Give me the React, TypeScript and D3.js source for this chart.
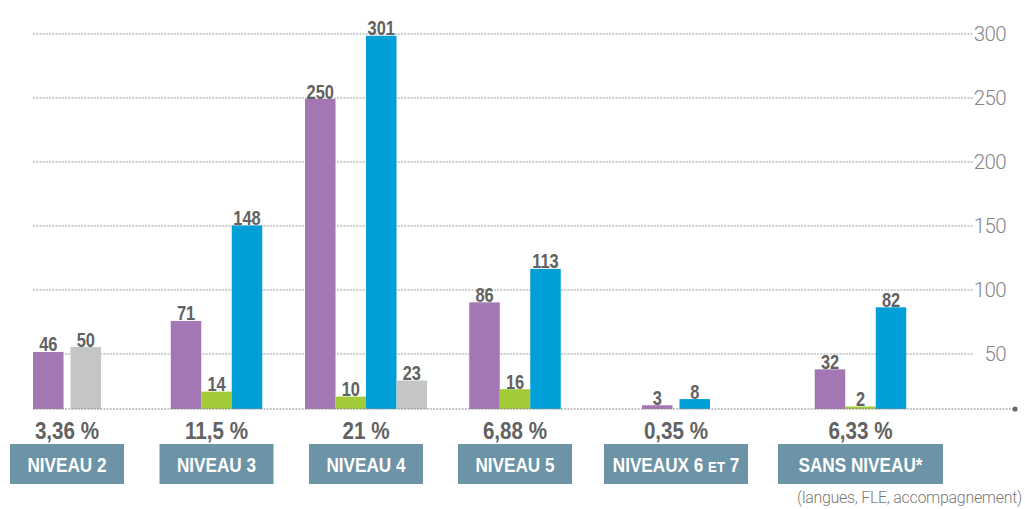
import React from 'react';
import * as d3 from 'd3';

// ---- data ----
const categories = ['NIVEAU 2', 'NIVEAU 3', 'NIVEAU 4', 'NIVEAU 5', 'NIVEAUX 6 ET 7', 'SANS NIVEAU*'];
const percentages = ['3,36 %', '11,5 %', '21 %', '6,88 %', '0,35 %', '6,33 %'];
const purpleValues: (number | null)[] = [46, 71, 250, 86, 3, 32];
const greenValues: (number | null)[] = [null, 14, 10, 16, null, 2];
const blueValues: (number | null)[] = [null, 148, 301, 113, 8, 82];
const grayValues: (number | null)[] = [50, null, 23, null, null, null];
const tickValues = [50, 100, 150, 200, 250, 300];
const footnote = '(langues, FLE, accompagnement)';

// ---- styles / layout ----
const W = 1025;
const H = 509;
const series = [
  { key: 'purple', color: '#a477b4', values: purpleValues },
  { key: 'green', color: '#a2cb3a', values: greenValues },
  { key: 'blue', color: '#009fd8', values: blueValues },
  { key: 'gray', color: '#c4c6c5', values: grayValues },
];
const baselineY = 409;
const gridX0 = 33;
const gridX1 = 973;
const boxWidths = [114, 114, 114, 114, 144, 165];
const boxGaps = [35.5, 35.5, 35, 32, 30];
const boxStart = 10;
const boxY = 444;
const boxH = 40;
const barW = 30.5;
const pairGap = 7;
const sans = "'Liberation Sans', Arial, Helvetica, sans-serif";
const light = "Roboto, 'Noto Sans', sans-serif";
const textGray = '#626262';

function CondText({ x, y, sx, children, ...rest }: any) {
  return (
    <text transform={`translate(${x},${y}) scale(${sx},1)`} textAnchor="middle" fontFamily={sans} fontWeight={700} {...rest}>
      {children}
    </text>
  );
}

export default function App() {
  const yGrid = d3.scaleLinear().domain([0, 300]).range([418, 34]);
  const yBar = d3.scaleLinear().domain([0, 300]).range([baselineY, 37]);

  // group centers from box layout
  let acc = boxStart;
  const boxes = boxWidths.map((w, i) => {
    const b = { x: acc, w, c: acc + w / 2 };
    acc += w + (boxGaps[i] ?? 0);
    return b;
  });

  const bars: { x: number; v: number; color: string; key: string }[] = [];
  categories.forEach((_, gi) => {
    const present = series.filter((s) => s.values[gi] != null);
    const n = present.length;
    const gap = n === 2 ? pairGap : 0;
    const total = n * barW + (n - 1) * gap;
    const x0 = boxes[gi].c - total / 2;
    const inner = d3
      .scaleBand<string>()
      .domain(present.map((s) => s.key))
      .range([x0, x0 + total])
      .paddingInner(gap / (barW + gap));
    present.forEach((s) => {
      bars.push({ x: inner(s.key) as number, v: s.values[gi] as number, color: s.color, key: s.key + gi });
    });
  });

  const renderCategory = (c: string) => {
    const parts = c.split(' ET ');
    if (parts.length === 2) {
      return (
        <>
          {parts[0] + ' '}
          <tspan fontSize={15}>ET</tspan>
          {' ' + parts[1]}
        </>
      );
    }
    return c;
  };

  return (
    <svg width={W} height={H} style={{ position: 'absolute', left: 0, top: 0, background: '#fff' }}>
      {/* gridlines */}
      {tickValues.map((t) => (
        <g key={t}>
          <line x1={gridX0} x2={gridX1} y1={yGrid(t)} y2={yGrid(t)} stroke="#9c9c9c" strokeWidth={1} strokeDasharray="2 1.2" />
          <text x={1006} y={yGrid(t) + 7.3} textAnchor="end" fontFamily={light} fontWeight={300} fontSize={20.5} letterSpacing={-0.6} fill="#878787">
            {t}
          </text>
        </g>
      ))}

      {/* bars */}
      {bars.map((b) => (
        <g key={b.key}>
          <rect x={b.x} y={yBar(b.v)} width={barW} height={baselineY - yBar(b.v)} fill={b.color} />
          <CondText x={b.x + barW / 2} y={yBar(b.v) - 0.5} sx={0.8} fontSize={20.5} fill={textGray}>
            {b.v}
          </CondText>
        </g>
      ))}

      {/* baseline */}
      <line x1={gridX0} x2={1015} y1={baselineY} y2={baselineY} stroke="#8a8a8a" strokeWidth={1.2} strokeDasharray="2 1.2" />
      <circle cx={1015} cy={baselineY} r={2.6} fill="#6a6a6a" />

      {/* percentages and category boxes */}
      {boxes.map((b, i) => (
        <g key={i}>
          <CondText x={b.c} y={438.5} sx={0.86} fontSize={24} fill={textGray}>
            {percentages[i]}
          </CondText>
          <rect x={b.x} y={boxY} width={b.w} height={boxH} fill="#6d93a6" />
          <CondText x={b.c} y={boxY + 27.5} sx={0.88} fontSize={19.5} fill="#ffffff">
            {renderCategory(categories[i])}
          </CondText>
        </g>
      ))}

      <text x={1022} y={503} textAnchor="end" fontFamily={light} fontWeight={300} fontSize={16} letterSpacing={-0.3} fill="#7a7a7a">
        {footnote}
      </text>
    </svg>
  );
}
